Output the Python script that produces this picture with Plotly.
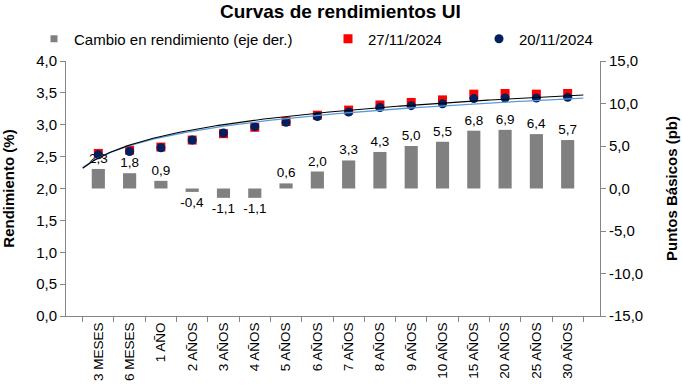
import numpy as np
import plotly.graph_objects as go

categories = ["3 MESES", "6 MESES", "1 AÑO", "2 AÑOS", "3 AÑOS", "4 AÑOS", "5 AÑOS", "6 AÑOS",
              "7 AÑOS", "8 AÑOS", "9 AÑOS", "10 AÑOS", "15 AÑOS", "20 AÑOS", "25 AÑOS", "30 AÑOS"]
yield_27 = [2.55, 2.60, 2.65, 2.76, 2.86, 2.96, 3.05, 3.15, 3.23, 3.31, 3.35, 3.39, 3.48, 3.49, 3.48, 3.49]
yield_20 = [2.53, 2.58, 2.64, 2.76, 2.87, 2.97, 3.04, 3.13, 3.20, 3.27, 3.30, 3.33, 3.41, 3.42, 3.42, 3.43]
change_bp = [2.3, 1.8, 0.9, -0.4, -1.1, -1.1, 0.6, 2.0, 3.3, 4.3, 5.0, 5.5, 6.8, 6.9, 6.4, 5.7]

left_ticks = [0, 0.5, 1.0, 1.5, 2.0, 2.5, 3.0, 3.5, 4.0]
left_labels = ["0,0", "0,5", "1,0", "1,5", "2,0", "2,5", "3,0", "3,5", "4,0"]
right_ticks = [-15, -10, -5, 0, 5, 10, 15]
right_labels = ["-15,0", "-10,0", "-5,0", "0,0", "5,0", "10,0", "15,0"]

FONT = "Liberation Sans, Arial, sans-serif"
AXC = "#868686"
BAR_C = "#808080"

bar_text = [f"{v:.1f}".replace(".", ",") for v in change_bp]

# logarithmic trendlines (as in the spreadsheet)
idx = np.arange(1, len(categories) + 1)
t = np.linspace(1, len(categories), 200)
b27, a27 = np.polyfit(np.log(idx), yield_27, 1)
b20, a20 = np.polyfit(np.log(idx), yield_20, 1)

fig = go.Figure()
fig.add_trace(go.Bar(
    x=categories, y=change_bp, name="Cambio en rendimiento (eje der.)",
    marker=dict(color=BAR_C, line=dict(width=0)), width=0.42,
    text=bar_text, textposition="outside", cliponaxis=False, constraintext="none",
    textfont=dict(family=FONT, size=13.5, color="black"),
    xaxis="x", yaxis="y", showlegend=False, hoverinfo="skip"))
# legend-only entry for the bars (small square symbol)
fig.add_trace(go.Scatter(
    x=[None], y=[None], mode="markers", name="Cambio en rendimiento (eje der.)",
    marker=dict(symbol="square", color=BAR_C, size=7),
    xaxis="x", yaxis="y", legend="legend"))
fig.add_trace(go.Scatter(
    x=categories, y=yield_27, mode="markers", name="27/11/2024",
    marker=dict(symbol="square", color="#ff0000", size=9),
    xaxis="x", yaxis="y2", legend="legend2"))
fig.add_trace(go.Scatter(
    x=categories, y=yield_20, mode="markers", name="20/11/2024",
    marker=dict(symbol="circle", color="#002060", size=9),
    xaxis="x", yaxis="y2", legend="legend3"))
fig.add_trace(go.Scatter(
    x=t - 1, y=a20 + b20 * np.log(t), mode="lines", showlegend=False,
    line=dict(color="#5b9bd5", width=1.3), xaxis="x2", yaxis="y2", hoverinfo="skip"))
fig.add_trace(go.Scatter(
    x=t - 1, y=a27 + b27 * np.log(t), mode="lines", showlegend=False,
    line=dict(color="#000000", width=1.1), xaxis="x2", yaxis="y2", hoverinfo="skip"))

legfont = dict(family=FONT, size=15, color="black")
legcommon = dict(orientation="h", xref="container", yref="container", y=0.899,
                 xanchor="left", yanchor="middle", font=legfont,
                 bgcolor="rgba(0,0,0,0)", itemwidth=30)
fig.update_layout(
    width=682, height=386,
    margin=dict(l=66, r=82, t=61, b=70, autoexpand=False),
    paper_bgcolor="white", plot_bgcolor="white",
    separators=",.",
    font=dict(family=FONT, size=15, color="black"),
    title=dict(text="<b>Curvas de rendimientos UI</b>", xref="container", x=0.499,
               xanchor="center", yref="container", y=0.971, yanchor="middle",
               font=dict(family=FONT, size=19, color="black")),
    xaxis=dict(type="category", showline=True, linecolor=AXC, linewidth=1,
               ticks="outside", tickson="boundaries", ticklen=5, tickcolor=AXC,
               tickangle=-90, tickfont=dict(family=FONT, size=13.5, color="black"),
               showgrid=False, zeroline=False, anchor="y2", automargin=False),
    xaxis2=dict(overlaying="x", range=[-0.5, len(categories) - 0.5], visible=False, anchor="y2"),
    yaxis=dict(side="right", range=[-15, 15], tickvals=right_ticks, ticktext=right_labels,
               showline=True, linecolor=AXC, ticks="outside", ticklen=5, tickcolor=AXC,
               showgrid=False, zeroline=False, tickfont=dict(family=FONT, size=15, color="black"),
               title=dict(text="<b>Puntos Básicos (pb)</b>", font=dict(family=FONT, size=15, color="black"),
                          standoff=24), anchor="x", automargin=False),
    yaxis2=dict(side="left", overlaying="y", range=[0, 4], tickvals=left_ticks, ticktext=left_labels,
                showline=True, linecolor=AXC, ticks="outside", ticklen=5, tickcolor=AXC,
                showgrid=False, zeroline=False, tickfont=dict(family=FONT, size=15, color="black"),
                title=dict(text="<b>Rendimiento (%)</b>", font=dict(family=FONT, size=15, color="black"),
                           standoff=20), anchor="x", automargin=False),
    legend=dict(x=34 / 682, **legcommon),
    legend2=dict(x=328 / 682, **legcommon),
    legend3=dict(x=479 / 682, **legcommon),
)

fig.write_html("out.html", config={"displayModeBar": False},
               post_script="document.body.style.margin='0';")
